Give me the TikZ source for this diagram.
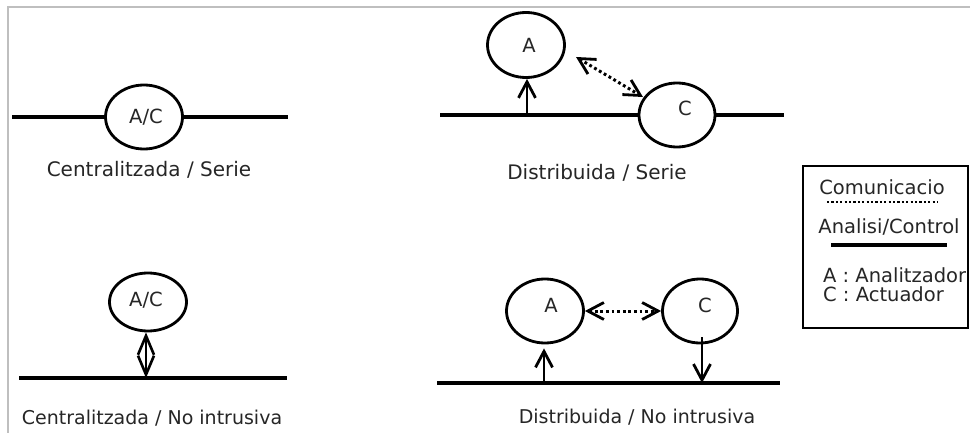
\documentclass[tikz,border=0pt]{standalone}
\usepackage{fontspec}
\setmainfont{DejaVu Sans}
\usetikzlibrary{shapes.geometric,arrows.meta}
\begin{document}
\begin{tikzpicture}[x=1pt,y=-1pt,
  blk/.style={ellipse,draw,line width=2.8pt,fill=white,inner sep=0pt,
              minimum width=77pt,minimum height=64pt},
  bus/.style={line width=3.2pt},
  barb/.tip={Straight Barb[length=16pt,width=17pt,line width=2.8pt]},
  ctrl/.style={line width=2.8pt,-barb},
  comm/.style={line width=3pt,dash pattern=on 2.8pt off 2.8pt,barb-barb},
  capt/.style={text=black!85,font=\fontsize{19.5}{22}\selectfont},
  big/.style={text=black!85,font=\fontsize{20}{22}\selectfont},
  small/.style={text=black!85,font=\fontsize{19}{22}\selectfont},
]
\useasboundingbox (0,0) rectangle (970,433);
\fill[white] (0,0) rectangle (970,433);
\draw[line width=1.4pt,black!25] (8,433) -- (8,7) -- (970,7);

% centralised, in series
\node[blk,label={[capt,xshift=2pt]center:A/C}] (ac1) at (144,117) {};
\coordinate (b1l) at (12,117);
\coordinate (b1r) at (288,117);
\draw[bus] (b1l) -- (ac1.west);
\draw[bus] (ac1.east) -- (b1r);
\node[big] (t1) at (149,170) {Centralitzada / Serie};

% distributed, in series
\node[blk,minimum height=65pt,label={[capt,xshift=3pt]center:A}] (a2) at (526,45) {};
\node[blk,minimum width=76pt,label={[capt,xshift=8pt,yshift=7pt]center:C}] (c2) at (677,115) {};
\coordinate (b2l) at (440,115);
\coordinate (b2r) at (784,115);
\coordinate (p2) at (527,115);
\draw[bus] (b2l) -- (c2.west);
\draw[bus] (c2.east) -- (b2r);
\draw[ctrl] (p2) -- (p2 |- a2.south);
\coordinate (q2a) at (576,57);
\coordinate (q2c) at (643,97);
\draw[comm] (q2a) -- (q2c);
\node[big] (t2) at (597,173) {Distribuida / Serie};

% centralised, non-intrusive
\node[blk,minimum height=58pt,label={[capt,xshift=-2pt,yshift=2pt]center:A/C}] (ac3) at (148,302) {};
\coordinate (b3l) at (19,378);
\coordinate (b3r) at (287,378);
\coordinate (p3) at (146,378);
\draw[bus] (b3l) -- (b3r);
\draw[line width=2.6pt,{Straight Barb[length=19pt,width=16pt,line width=2.6pt]}-{Straight Barb[length=19pt,width=16pt,line width=2.6pt]}] (p3) -- (p3 |- ac3.south);
\node[small] (t3) at (152,418) {Centralitzada / No intrusiva};

% distributed, non-intrusive
\node[blk,label={[capt,xshift=6pt,yshift=6pt]center:A}] (a4) at (545,311) {};
\node[blk,minimum width=75pt,label={[capt,xshift=5pt,yshift=6pt]center:C}] (c4) at (700,311) {};
\coordinate (b4l) at (437,383);
\coordinate (b4r) at (780,383);
\coordinate (p4a) at (544,383);
\coordinate (p4c) at (702,383);
\coordinate (s4c) at (702,337);
\draw[bus] (b4l) -- (b4r);
\draw[ctrl] (p4a) -- ([yshift=-4pt]p4a |- a4.south);
\draw[ctrl] (s4c) -- (p4c);
\draw[comm] (a4.east) -- (c4.west);
\node[small] (t4) at (637,417) {Distribuida / No intrusiva};

% legend
\node[draw,line width=1.4pt,inner sep=0pt,minimum width=165pt,minimum height=162pt] (key) at (885.5,247) {};
\node[capt] (k1) at (882,187) {Comunicacio};
\coordinate (d1) at (827,202);
\coordinate (d2) at (938,202);
\draw[line width=2.4pt,dash pattern=on 2.2pt off 2.2pt] (d1) -- (d2);
\node[capt] (k2) at (889,227) {Analisi/Control};
\coordinate (s1) at (831,245);
\coordinate (s2) at (947,245);
\draw[line width=3.2pt] (s1) -- (s2);
\node[capt,anchor=west,inner sep=0pt] (k3) at (823,275) {A : Analitzador};
\node[capt,anchor=west,inner sep=0pt] (k4) at (823,294) {C : Actuador};
\end{tikzpicture}
\end{document}
